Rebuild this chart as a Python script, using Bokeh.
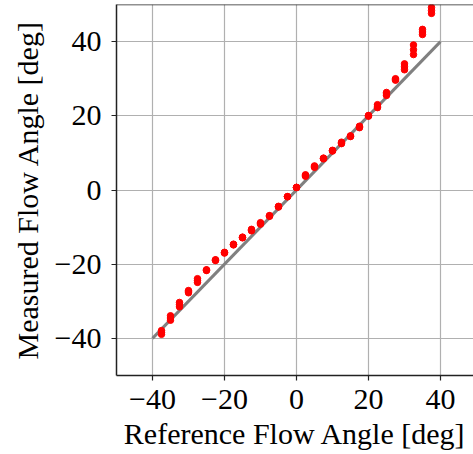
from bokeh.plotting import figure
from bokeh.models import Range1d, Span, FixedTicker
from bokeh.embed import file_html
from bokeh.resources import INLINE

# Reference flow angles (deg)
reference_angle = [-37.5, -35, -32.5, -30, -27.5, -25, -22.5, -20, -17.5, -15, -12.5,
                   -10, -7.5, -5, -2.5, 0, 2.5, 5, 7.5, 10, 12.5, 15, 17.5, 20,
                   22.5, 25, 27.5, 30, 32.5, 35, 37.5]
# Measured flow angles: repeated measurements (low / mid / high) per reference angle
measured_low = [-38.9, -35.1, -31.5, -27.7, -24.9, -21.7, -19.0, -17.0, -14.8, -12.9, -11.0,
                -9.2, -7.1, -4.6, -1.8, 0.7, 3.7, 6.1, 8.4, 10.5, 12.5, 14.4, 16.8, 19.9,
                22.2, 25.5, 29.6, 32.4, 36.5, 41.9, 47.6]
measured_mid = [-38.4, -34.5, -30.9, -27.4, -24.4, -21.6, -18.9, -16.9, -14.7, -12.8, -10.8,
                -9.0, -7.0, -4.5, -1.8, 0.7, 3.9, 6.3, 8.5, 10.6, 12.7, 14.5, 17.0, 20.0,
                22.6, 25.9, 29.8, 33.2, 37.8, 42.6, 48.4]
measured_high = [-37.9, -33.9, -30.3, -27.1, -23.9, -21.5, -18.8, -16.8, -14.6, -12.7, -10.6,
                 -8.8, -6.9, -4.4, -1.8, 0.7, 4.1, 6.5, 8.6, 10.7, 12.9, 14.6, 17.2, 20.1,
                 23.0, 26.3, 30.0, 34.0, 39.1, 43.3, 49.2]
ideal_x = [-40, 40]
ideal_y = [-40, 40]

ticks = [-40, -20, 0, 20, 40]
tick_labels = {-40: "\u221240", -20: "\u221220", 0: "0", 20: "20", 40: "40"}

FONT = "Liberation Serif"
FS = "30px"

p = figure(width=473, height=454, output_backend="svg", toolbar_location=None,
           x_range=Range1d(-50, 49.17), y_range=Range1d(-50, 50),
           min_border_left=116, min_border_right=0, min_border_top=4, min_border_bottom=79)
p.outline_line_color = None
p.background_fill_color = "white"
p.border_fill_color = "white"

p.line(ideal_x, ideal_y, line_color="#808080", line_width=3)

xs = reference_angle * 3
ys = measured_low + measured_mid + measured_high
p.scatter(xs, ys, size=6.5, fill_color="#ff0000", line_color="#ff0000", marker="circle")

p.add_layout(Span(location=50, dimension="width", line_color="#222222", line_width=1.3))

for ax in (p.xaxis[0], p.yaxis[0]):
    ax.ticker = FixedTicker(ticks=ticks)
    ax.major_label_overrides = tick_labels
    ax.minor_tick_line_color = None
    ax.major_tick_in = 0
    ax.major_tick_out = 5
    ax.major_tick_line_color = "#222222"
    ax.major_tick_line_width = 1.2
    ax.axis_line_color = "#222222"
    ax.axis_line_width = 1.5
    ax.major_label_text_font = FONT
    ax.major_label_text_font_size = FS
    ax.major_label_text_color = "black"
    ax.axis_label_text_font = FONT
    ax.axis_label_text_font_size = FS
    ax.axis_label_text_font_style = "normal"
    ax.axis_label_text_color = "black"

p.xaxis.axis_label = "Reference Flow Angle [deg]"
p.yaxis.axis_label = "Measured Flow Angle [deg]"
p.xaxis.major_label_standoff = 9
p.yaxis.major_label_standoff = 10
p.xaxis.axis_label_standoff = 5
p.yaxis.axis_label_standoff = 8

for g in (p.xgrid[0], p.ygrid[0]):
    g.ticker = FixedTicker(ticks=ticks)
    g.grid_line_color = "#b0b0b0"
    g.grid_line_width = 1.2

open("out.html", "w").write(file_html(p, INLINE))
